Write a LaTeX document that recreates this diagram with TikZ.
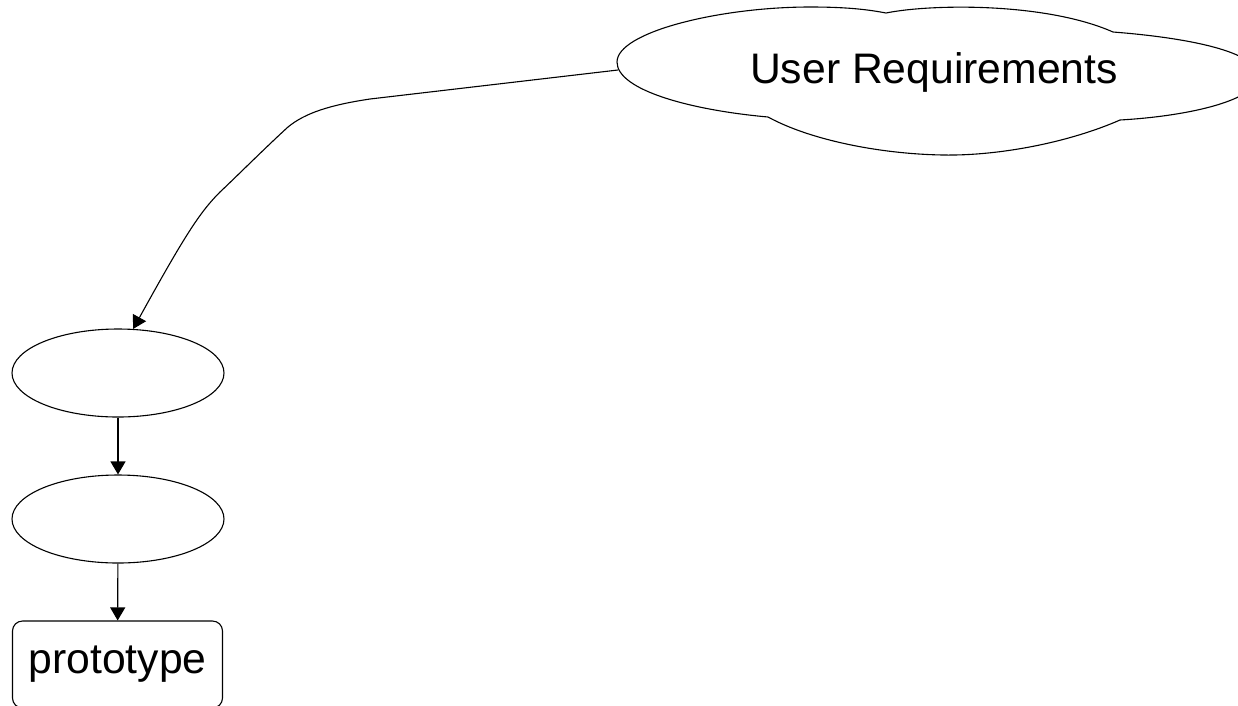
\documentclass[tikz,border=0pt]{standalone}
\usepackage{fontspec}
\setmainfont{Liberation Sans}
\usetikzlibrary{arrows.meta,shapes.geometric}
\begin{document}
\begin{tikzpicture}[x=1pt,y=-1pt,line width=1.1pt,
  blob/.style={draw, ellipse, minimum width=212pt, minimum height=88pt, inner sep=0pt},
  protobox/.style={draw, rounded corners=10pt, minimum width=210pt, minimum height=87pt, inner sep=0pt},
  lbl/.style={font=\fontsize{42.7}{50}\selectfont},
  conn/.style={-{Triangle[length=13pt,width=15pt]}, line width=1.1pt}]
\useasboundingbox (0,0) rectangle (1238,705);
% cloud outline
\draw (768,117) .. controls (690,110) and (617,90) .. (617,62)
  .. controls (617,32) and (720,7) .. (810,7)
  .. controls (850,7) and (870,10) .. (886,13)
  .. controls (930,4) and (1045,2) .. (1113,32)
  .. controls (1190,38) and (1258,52) .. (1258,76)
  .. controls (1258,100) and (1190,116) .. (1120,120)
  .. controls (1070,142) and (1000,156) .. (943,155)
  .. controls (880,154) and (810,140) .. (768,117) -- cycle;
\node[lbl, anchor=base] (req) at (934,83) {User Requirements};
\coordinate (reqtip) at (618,70);
% nodes
\node[blob] (e1) at (118,373) {};
\node[blob] (e2) at (118,519) {};
\node[protobox, lbl] (proto) at (117.5,664.5) {prototype};
% connectors
\draw[conn] (reqtip) -- (370,99) .. controls (330,105) and (305,113) .. (288,127)
  .. controls (265,148) and (235,178) .. (220,192)
  .. controls (200,212) and (185,235) .. (e1.71);
\draw[conn] (e1) -- (e2);
\draw[conn] (e2) -- (proto);
\end{tikzpicture}
\end{document}
